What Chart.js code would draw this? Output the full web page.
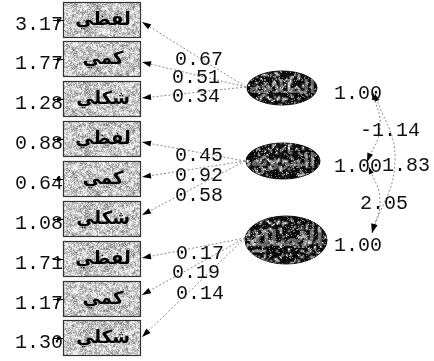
<!DOCTYPE html>
<html>
<head>
<meta charset="utf-8">
<script src="https://cdn.jsdelivr.net/npm/chart.js@4.4.1/dist/chart.umd.min.js"></script>
<style>
  html, body { margin: 0; padding: 0; background: #fff; }
  #pathChart { display: block; }
</style>
</head>
<body>
<canvas id="pathChart" width="434" height="361"></canvas>
<script>
// data
const indicators = ['لفظي', 'كمي', 'شكلي', 'لفظي', 'كمي', 'شكلي', 'لفظي', 'كمي', 'شكلي'];
const errorVars = [3.17, 1.77, 1.28, 0.88, 0.64, 1.08, 1.71, 1.17, 1.30];
const factors = ['الطلاقة', 'المرونة', 'الأصالة'];
const factorVars = [1.00, 1.00, 1.00];
const loadings = [0.67, 0.51, 0.34, 0.45, 0.92, 0.58, 0.17, 0.19, 0.14];
const loadingFactor = [0, 0, 0, 1, 1, 1, 2, 2, 2];
const corrs = [-1.14, 1.83, 2.05];

// layout of the diagram (pixel units of the drawing)
const boxY = [20, 59, 99, 139, 179, 219, 259, 299, 338];
const boxLeft = 63, boxRight = 141, boxH = 36;
const tipX = 142;
const tipY = [22, 62, 98, 142, 177, 215, 258, 295, 337];
const factorPos = [{x: 282, y: 88, rx: 35, ry: 17}, {x: 283, y: 161, rx: 37, ry: 18}, {x: 286, y: 240, rx: 41, ry: 24}];
const anchorPos = [{x: 246, y: 87}, {x: 245, y: 161}, {x: 245, y: 238}];
const lblX = [175, 172, 172, 175, 175, 175, 176, 172, 176];
const lblY = [60, 78, 97, 156, 176, 196, 254, 273, 294];
const curvePts = [
  [{x: 373, y: 93}, {x: 380, y: 128}, {x: 367, y: 162}],
  [{x: 375, y: 94}, {x: 395, y: 160}, {x: 372, y: 233}],
  [{x: 369, y: 167}, {x: 380, y: 200}, {x: 372, y: 233}]
];
const corrLblPos = [{x: 360, y: 131}, {x: 382, y: 166}, {x: 360, y: 204}];

const monoFont = '20px "Liberation Mono", "DejaVu Sans Mono", monospace';

function rng(seed) {
  let s = seed;
  return () => { s ^= s << 13; s ^= s >>> 17; s ^= s << 5; return ((s >>> 0) % 10000) / 10000; };
}

// speckled texture: coarse blotches upscaled, then fine grain on top
function makePattern(seed, coarse, fine) {
  const w = 98, h = 62;
  const r = rng(seed);
  const small = document.createElement('canvas');
  small.width = w / 2; small.height = h / 2;
  const sg = small.getContext('2d');
  const simg = sg.createImageData(small.width, small.height);
  for (let i = 0; i < small.width * small.height; i++) {
    const v = coarse(r());
    simg.data[i * 4] = v; simg.data[i * 4 + 1] = v; simg.data[i * 4 + 2] = v; simg.data[i * 4 + 3] = 255;
  }
  sg.putImageData(simg, 0, 0);
  const c = document.createElement('canvas');
  c.width = w; c.height = h;
  const g = c.getContext('2d');
  g.imageSmoothingEnabled = true;
  g.drawImage(small, 0, 0, w, h);
  const img = g.getImageData(0, 0, w, h);
  for (let i = 0; i < w * h; i++) {
    const d = fine(r());
    for (let k = 0; k < 3; k++) img.data[i * 4 + k] = Math.max(0, Math.min(255, img.data[i * 4 + k] + d));
  }
  g.putImageData(img, 0, 0);
  return c;
}

const boxTex = makePattern(12345, v => 150 + v * 100, v => (v - 0.5) * 90);
const ellTex = makePattern(9876, v => v < 0.8 ? v * 30 : 90 + v * 120, v => v > 0.9 ? 120 : (v - 0.5) * 30);

function arrowHead(ctx, fx, fy, tx, ty, len, w) {
  const a = Math.atan2(ty - fy, tx - fx);
  ctx.beginPath();
  ctx.moveTo(tx, ty);
  ctx.lineTo(tx - len * Math.cos(a) + w * Math.sin(a), ty - len * Math.sin(a) - w * Math.cos(a));
  ctx.lineTo(tx - len * Math.cos(a) - w * Math.sin(a), ty - len * Math.sin(a) + w * Math.cos(a));
  ctx.closePath();
  ctx.fill();
}

const datasets = [];
loadings.forEach((v, i) => {
  const a = anchorPos[loadingFactor[i]];
  datasets.push({
    data: [{x: a.x, y: a.y}, {x: tipX, y: tipY[i]}],
    borderColor: '#8a8a8a', borderWidth: 1, borderDash: [2, 2],
    pointRadius: 0, showLine: true, tension: 0
  });
});
curvePts.forEach(pts => {
  datasets.push({
    data: pts, borderColor: '#8a8a8a', borderWidth: 1, borderDash: [2, 2],
    pointRadius: 0, showLine: true, tension: 0.45
  });
});

const diagramPlugin = {
  id: 'diagram',
  afterDatasetsDraw(chart) {
    const ctx = chart.ctx;
    const x = chart.scales.x, y = chart.scales.y;
    ctx.save();
    ctx.fillStyle = '#000';

    // arrowheads on loading paths
    loadings.forEach((v, i) => {
      const p = chart.getDatasetMeta(i).data;
      arrowHead(ctx, p[0].x, p[0].y, p[1].x, p[1].y, 9, 3);
    });
    // arrowheads on correlation curves
    curvePts.forEach((c, k) => {
      const p = chart.getDatasetMeta(loadings.length + k).data;
      const last = p[p.length - 1], first = p[0];
      const bx = last.cp1x !== undefined ? last.cp1x : p[p.length - 2].x;
      const by = last.cp1y !== undefined ? last.cp1y : p[p.length - 2].y;
      arrowHead(ctx, bx, by, last.x, last.y, 9, 3);
      const fx = first.cp2x !== undefined ? first.cp2x : p[1].x;
      const fy = first.cp2y !== undefined ? first.cp2y : p[1].y;
      arrowHead(ctx, fx, fy, first.x, first.y, 7, 2.5);
    });

    // observed variable boxes
    const boxPat = ctx.createPattern(boxTex, 'repeat');
    indicators.forEach((name, i) => {
      const l = x.getPixelForValue(boxLeft), r = x.getPixelForValue(boxRight);
      const t = y.getPixelForValue(boxY[i] - boxH / 2), b = y.getPixelForValue(boxY[i] + boxH / 2);
      ctx.fillStyle = boxPat;
      ctx.fillRect(l, t, r - l, b - t);
      ctx.strokeStyle = '#333';
      ctx.lineWidth = 1.2;
      ctx.strokeRect(l + 0.5, t + 0.5, r - l - 1, b - t - 1);
      ctx.fillStyle = '#000';
      ctx.font = 'bold 18px "DejaVu Sans", sans-serif';
      ctx.textAlign = 'center';
      ctx.textBaseline = 'middle';
      ctx.fillText(name, (l + r) / 2 + 1, (t + b) / 2);

      // error term arrow and value
      const ey = y.getPixelForValue(boxY[i]);
      ctx.strokeStyle = '#000';
      ctx.lineWidth = 1;
      ctx.beginPath();
      ctx.moveTo(x.getPixelForValue(53), ey + 0.5);
      ctx.lineTo(l, ey + 0.5);
      ctx.stroke();
      arrowHead(ctx, l - 8, ey + 0.5, l, ey + 0.5, 6, 2);
      ctx.fillStyle = '#111';
      ctx.font = monoFont;
      ctx.textAlign = 'right';
      ctx.textBaseline = 'middle';
      ctx.fillText(errorVars[i].toFixed(2), x.getPixelForValue(63), y.getPixelForValue(boxY[i] + 5));
    });

    // latent factor ellipses
    const ellPat = ctx.createPattern(ellTex, 'repeat');
    factors.forEach((name, k) => {
      const f = factorPos[k];
      const cx = x.getPixelForValue(f.x), cy = y.getPixelForValue(f.y);
      ctx.beginPath();
      ctx.ellipse(cx, cy, f.rx, f.ry, 0, 0, Math.PI * 2);
      ctx.fillStyle = ellPat;
      ctx.fill();
      ctx.strokeStyle = '#111';
      ctx.lineWidth = 1;
      ctx.stroke();
      ctx.save();
      ctx.clip();
      ctx.globalAlpha = 0.8;
      ctx.fillStyle = '#ddd';
      ctx.font = 'bold ' + (k === 2 ? 22 : 18) + 'px "DejaVu Sans", sans-serif';
      ctx.textAlign = 'center';
      ctx.textBaseline = 'middle';
      ctx.fillText(name, cx, cy);
      ctx.globalAlpha = 0.45;
      ctx.fillStyle = ellPat;
      ctx.fillRect(cx - f.rx, cy - f.ry, f.rx * 2, f.ry * 2);
      ctx.restore();

      ctx.fillStyle = '#111';
      ctx.font = monoFont;
      ctx.textAlign = 'left';
      ctx.textBaseline = 'middle';
      ctx.fillText(factorVars[k].toFixed(2), x.getPixelForValue(334), cy + 6);
    });

    // loading values
    ctx.fillStyle = '#111';
    ctx.font = monoFont;
    ctx.textAlign = 'left';
    ctx.textBaseline = 'middle';
    loadings.forEach((v, i) => {
      ctx.fillText(v.toFixed(2), x.getPixelForValue(lblX[i]), y.getPixelForValue(lblY[i]));
    });
    // factor correlations
    corrs.forEach((v, k) => {
      ctx.fillText(v.toFixed(2), x.getPixelForValue(corrLblPos[k].x), y.getPixelForValue(corrLblPos[k].y));
    });
    ctx.restore();
  }
};

new Chart(document.getElementById('pathChart'), {
  type: 'scatter',
  data: { datasets: datasets },
  options: {
    responsive: false,
    animation: false,
    devicePixelRatio: 1,
    layout: { padding: 0 },
    plugins: { legend: { display: false }, tooltip: { enabled: false } },
    scales: {
      x: { type: 'linear', min: 0, max: 434, display: false },
      y: { type: 'linear', min: 0, max: 361, reverse: true, display: false }
    }
  },
  plugins: [diagramPlugin]
});
</script>
</body>
</html>
